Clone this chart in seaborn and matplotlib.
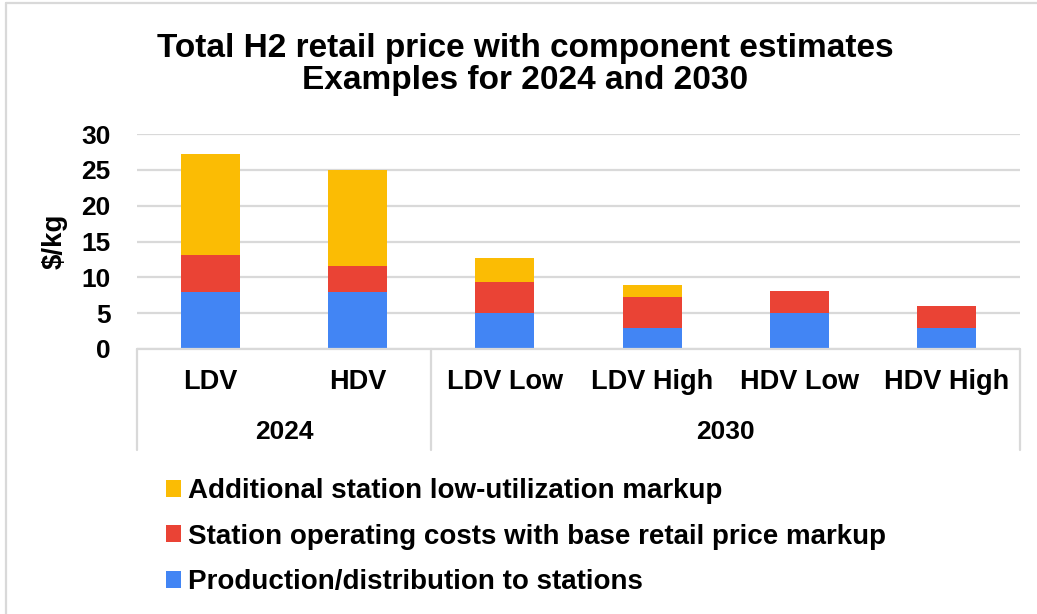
import matplotlib
matplotlib.use('Agg')
import matplotlib.pyplot as plt
from matplotlib.patches import Patch
from matplotlib.lines import Line2D
import seaborn as sns
import pandas as pd
import numpy as np

categories = ['LDV', 'HDV', 'LDV Low', 'LDV High', 'HDV Low', 'HDV High']
groups = ['2024', '2030']
group_spans = [(0, 1), (2, 5)]
production = [8.0, 8.0, 5.0, 3.0, 5.0, 3.0]
operating = [5.1, 3.6, 4.4, 4.3, 3.1, 3.0]
low_util = [14.1, 13.4, 3.25, 1.6, 0.0, 0.0]
series_names = ['Additional station low-utilization markup',
                'Station operating costs with base retail price markup',
                'Production/distribution to stations']
colors = ['#FBBC04', '#EA4335', '#4285F4']

df = pd.DataFrame({'category': categories, 'production': production,
                   'operating': operating, 'low_util': low_util})
df['lvl1'] = df['production']
df['lvl2'] = df['lvl1'] + df['operating']
df['lvl3'] = df['lvl2'] + df['low_util']

sns.set_theme(style='white')
plt.rcParams['font.family'] = ['Liberation Sans', 'DejaVu Sans']
plt.rcParams['font.weight'] = 'bold'
plt.rcParams['text.color'] = 'black'
plt.rcParams['axes.labelcolor'] = 'black'
plt.rcParams['ytick.color'] = 'black'

fig = plt.figure(figsize=(10.37, 6.14), dpi=100)
ax = fig.add_axes([137/1037, 1-349/614, 883/1037, 215/614])

# stacked look: draw cumulative totals back to front
for col, c in zip(['lvl3', 'lvl2', 'lvl1'], colors):
    sns.barplot(data=df, x='category', y=col, color=c, width=0.4,
                saturation=1, ax=ax, order=categories, linewidth=0)

ax.set_ylim(0, 30)
ax.set_xlim(-0.5, len(categories) - 0.5)
ax.set_yticks(range(0, 31, 5))
ax.yaxis.grid(True, color='#D9D9D9', linewidth=1.6)
ax.set_axisbelow(True)
for s in ax.spines.values():
    s.set_visible(False)
ax.tick_params(axis='y', length=0, pad=19, labelsize=19)
for lab in ax.get_yticklabels():
    lab.set_fontweight('bold')
ax.set_xticks([])
ax.set_xlabel('')
ax.set_ylabel('$/kg', fontsize=20, fontweight='bold', labelpad=10)

# category axis with group brackets
tr = ax.get_xaxis_transform()
ax.plot([-0.5, len(categories) - 0.5], [0, 0], transform=tr, color='#D9D9D9',
        lw=1.6, clip_on=False)
for xv in [-0.5, 1.5, len(categories) - 0.5]:
    ax.plot([xv, xv], [0, -101/215], transform=tr, color='#D9D9D9',
            lw=1.6, clip_on=False)
for i, cat in enumerate(categories):
    ax.text(i, -33/215, cat, transform=tr, ha='center', va='center',
            fontsize=19.5, fontweight='bold')
for g, (a, b) in zip(groups, group_spans):
    ax.text((a + b) / 2, -83/215, g, transform=tr, ha='center', va='center',
            fontsize=19, fontweight='bold')

fig.text(525/1037, 1-48/614, 'Total H2 retail price with component estimates',
         ha='center', va='center', fontsize=24, fontweight='bold')
fig.text(525/1037, 1-81/614, 'Examples for 2024 and 2030',
         ha='center', va='center', fontsize=24, fontweight='bold')

handles = [Patch(facecolor=c, edgecolor='none') for c in colors]
leg = fig.legend(handles, series_names, loc='upper left',
                 bbox_to_anchor=(155/1037, 1-467/614), frameon=False,
                 fontsize=20, handlelength=0.55, handleheight=0.55,
                 handletextpad=0.25, labelspacing=0.7, borderaxespad=0)
for t in leg.get_texts():
    t.set_fontweight('bold')

# outer chart border (top and left visible)
fig.add_artist(Line2D([6/1037, 6/1037], [0, 1-3/614], color='#D9D9D9', lw=1.6))
fig.add_artist(Line2D([6/1037, 1], [1-3/614, 1-3/614], color='#D9D9D9', lw=1.6))

fig.savefig('out.png', dpi=100, facecolor='white')
